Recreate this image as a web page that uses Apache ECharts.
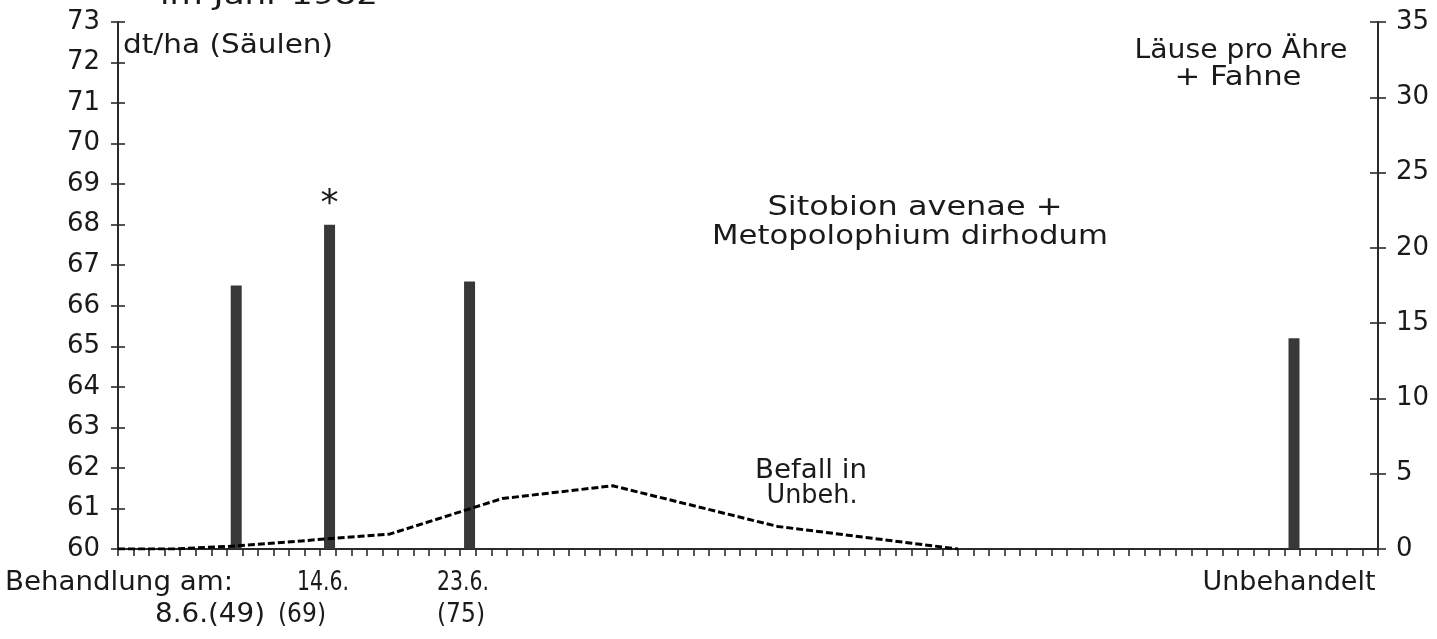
<!DOCTYPE html>
<html>
<head>
<meta charset="utf-8">
<script src="https://cdn.jsdelivr.net/npm/echarts@6/dist/echarts.min.js"></script>
<style>
  html, body { margin: 0; padding: 0; background: #fff; }
  #chart { width: 1437px; height: 639px; }
</style>
</head>
<body>
<div id="chart"></div>
<script>
// Spraying treatments: date, growth stage, position on the season axis (days from 1 June)
const treatmentDates = ['8.6.', '14.6.', '23.6.'];
const growthStages = ['(49)', '(69)', '(75)'];
const treatmentDay = [7.6, 13.6, 22.6, 75.6];
// Grain yield per treatment, dt/ha (last one = untreated)
const yieldDtHa = [66.5, 68.0, 66.6, 65.2];
const significance = ['', '*', '', ''];

// Aphids per ear + flag leaf in the untreated plot
const countDay = [0, 3.5, 7.6, 17.5, 24.7, 31.8, 42.4, 54.0];
const aphidsPerEar = [0, 0, 0.2, 1.0, 3.35, 4.2, 1.5, 0];

// Axis ranges and tick steps
const yieldAxis = { min: 60, max: 73, step: 1 };
const aphidAxis = { min: 0, max: 35, step: 5 };
const dayAxis = { min: 0, max: 81, step: 1 };

const INK = '#1a1a1a';
const FONT_FAMILY = '"DejaVu Sans", "Liberation Sans", sans-serif';
const TEXT_SIZE = 26;

const measureCtx = document.createElement('canvas').getContext('2d');
function textWidth(str, size) {
  measureCtx.font = size + 'px ' + FONT_FAMILY;
  return measureCtx.measureText(str).width;
}
// Centered text, stretched horizontally to the plotter lettering width
function note(text, cx, cy, width, size) {
  size = size || TEXT_SIZE;
  const s = width / textWidth(text, size);
  return {
    type: 'text', x: cx, y: cy, scaleX: s, silent: true,
    style: {
      text: text, fontSize: size, fontFamily: FONT_FAMILY, fill: INK,
      align: 'center', verticalAlign: 'middle'
    }
  };
}

const annotations = [
  note('im Jahr 1982', 269, -3, 218),
  note('dt/ha (Säulen)', 228, 46, 210),
  note('Läuse pro Ähre', 1241, 51, 213),
  note('+ Fahne', 1238, 78, 127),
  note('Sitobion avenae +', 915, 208, 295),
  note('Metopolophium dirhodum', 910, 237, 396),
  note('Befall in', 811, 471, 112),
  note('Unbeh.', 812, 496, 91),
  note('Behandlung am:', 119, 583, 228),
  note(treatmentDates[1], 323, 583, 52),
  note(treatmentDates[2], 463, 583, 52),
  note('Unbehandelt', 1289, 583, 173),
  note(treatmentDates[0] + growthStages[0], 210, 615, 110),
  note(growthStages[1], 302, 615, 48),
  note(growthStages[2], 461, 615, 48)
];

const barData = treatmentDay.map((d, i) => {
  const item = { value: [d, yieldDtHa[i]] };
  if (significance[i]) {
    item.label = {
      show: true, position: 'top', distance: 2, formatter: significance[i],
      fontSize: 36, fontFamily: FONT_FAMILY, color: INK
    };
  }
  return item;
});
const lineData = countDay.map((d, i) => [d, aphidsPerEar[i]]);

const axisLine = { show: true, lineStyle: { color: '#2a2a2a', width: 2 } };
const tickStyle = { color: '#2a2a2a', width: 1.6 };
const labelStyle = { fontSize: 26, fontFamily: FONT_FAMILY, color: INK };

const chart = echarts.init(document.getElementById('chart'), null, { renderer: 'canvas' });
chart.setOption({
  animation: false,
  backgroundColor: '#fff',
  grid: { left: 118, right: 59, top: 22, bottom: 90, containLabel: false },
  xAxis: {
    type: 'value', min: dayAxis.min, max: dayAxis.max, interval: dayAxis.step,
    axisLine: axisLine,
    axisTick: { show: true, inside: false, length: 7, lineStyle: tickStyle },
    axisLabel: { show: false },
    splitLine: { show: false }
  },
  yAxis: [
    {
      type: 'value', position: 'left', min: yieldAxis.min, max: yieldAxis.max, interval: yieldAxis.step,
      axisLine: axisLine,
      axisTick: { show: true, inside: false, length: 7, lineStyle: tickStyle },
      axisLabel: Object.assign({ margin: 18 }, labelStyle),
      splitLine: { show: false }
    },
    {
      type: 'value', position: 'left', min: yieldAxis.min, max: yieldAxis.max, interval: yieldAxis.step,
      axisLine: { show: false },
      axisTick: { show: true, inside: true, length: 7, lineStyle: tickStyle },
      axisLabel: { show: false },
      splitLine: { show: false }
    },
    {
      type: 'value', position: 'right', min: aphidAxis.min, max: aphidAxis.max, interval: aphidAxis.step,
      axisLine: axisLine,
      axisTick: { show: true, inside: false, length: 8, lineStyle: tickStyle },
      axisLabel: Object.assign({ margin: 18 }, labelStyle),
      splitLine: { show: false }
    },
    {
      type: 'value', position: 'right', min: aphidAxis.min, max: aphidAxis.max, interval: aphidAxis.step,
      axisLine: { show: false },
      axisTick: { show: true, inside: true, length: 8, lineStyle: tickStyle },
      axisLabel: { show: false },
      splitLine: { show: false }
    }
  ],
  series: [
    {
      name: 'Ertrag', type: 'bar', xAxisIndex: 0, yAxisIndex: 0,
      barWidth: 11, clip: true,
      itemStyle: { color: '#383838' },
      data: barData
    },
    {
      name: 'Befall in Unbeh.', type: 'line', xAxisIndex: 0, yAxisIndex: 2,
      symbol: 'none', smooth: false,
      lineStyle: { color: '#000', width: 3, type: [7, 3] },
      data: lineData
    }
  ],
  graphic: { elements: annotations }
});
</script>
</body>
</html>
